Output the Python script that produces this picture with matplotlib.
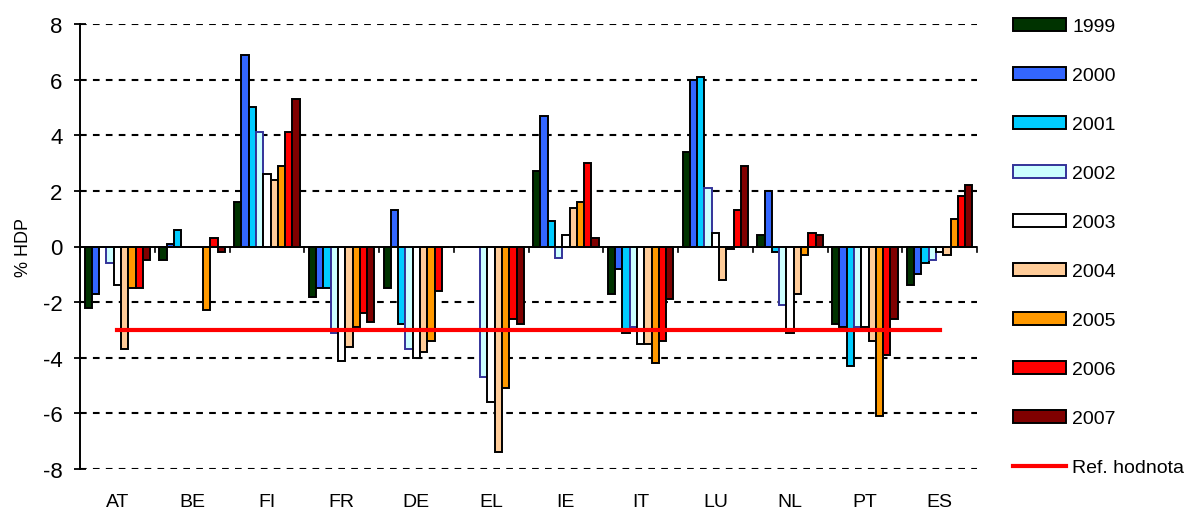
import numpy as np
import matplotlib
matplotlib.use('Agg')
import matplotlib.pyplot as plt

plt.rcParams['font.family'] = ['Liberation Sans', 'DejaVu Sans']

# Data (% HDP)
countries = ['AT', 'BE', 'FI', 'FR', 'DE', 'EL', 'IE', 'IT', 'LU', 'NL', 'PT', 'ES']
years = ['1999', '2000', '2001', '2002', '2003', '2004', '2005', '2006', '2007']

v1999 = [-2.2, -0.5, 1.6, -1.8, -1.5, 0.0, 2.7, -1.7, 3.4, 0.4, -2.8, -1.4]
v2000 = [-1.7, 0.1, 6.9, -1.5, 1.3, 0.0, 4.7, -0.8, 6.0, 2.0, -2.9, -1.0]
v2001 = [0.0, 0.6, 5.0, -1.5, -2.8, 0.0, 0.9, -3.1, 6.1, -0.2, -4.3, -0.6]
v2002 = [-0.6, 0.0, 4.1, -3.1, -3.7, -4.7, -0.4, -2.9, 2.1, -2.1, -2.9, -0.5]
v2003 = [-1.4, 0.0, 2.6, -4.1, -4.0, -5.6, 0.4, -3.5, 0.5, -3.1, -2.9, -0.2]
v2004 = [-3.7, 0.0, 2.4, -3.6, -3.8, -7.4, 1.4, -3.5, -1.2, -1.7, -3.4, -0.3]
v2005 = [-1.5, -2.3, 2.9, -2.9, -3.4, -5.1, 1.6, -4.2, -0.1, -0.3, -6.1, 1.0]
v2006 = [-1.5, 0.3, 4.1, -2.4, -1.6, -2.6, 3.0, -3.4, 1.3, 0.5, -3.9, 1.8]
v2007 = [-0.5, -0.2, 5.3, -2.7, 0.0, -2.8, 0.3, -1.9, 2.9, 0.4, -2.6, 2.2]
ref_value = -3.0

series = [v1999, v2000, v2001, v2002, v2003, v2004, v2005, v2006, v2007]
colors = ['#003300', '#3366FF', '#00CCFF', '#CCFFFF', '#FFFFFF',
          '#FFCC99', '#FF9900', '#FF0000', '#800000']
edges = ['black', 'black', 'black', '#333399', 'black',
         'black', 'black', 'black', 'black']

fig = plt.figure(figsize=(11.95, 5.1), dpi=100)
ax = fig.add_axes([80 / 1195, 1 - 470 / 510, 897 / 1195, 445 / 510])

x = np.arange(len(countries))
bw = 0.097
handles = []
for i, (vals, c, ec) in enumerate(zip(series, colors, edges)):
    off = (i - 4) * bw
    b = ax.bar(x + off, vals, width=bw, color=c, edgecolor=ec, linewidth=1.4,
               label=years[i], zorder=3)
    handles.append(b)

# reference line
ref_line, = ax.plot([x[0], x[-1]], [ref_value, ref_value], color='#FF0000',
                    linewidth=3, zorder=4, label='Ref. hodnota')
handles.append(ref_line)

# zero axis with group separator ticks
ax.axhline(0, color='black', linewidth=1.4, zorder=5)
for b in np.arange(len(countries) + 1) - 0.5:
    ax.plot([b, b], [0, -0.2], color='black', linewidth=1.2, zorder=5, clip_on=False)

ax.set_xlim(-0.5, len(countries) - 0.5)
ax.set_ylim(-8, 8)
ax.set_yticks(np.arange(-8, 9, 2))
ax.set_yticklabels([str(t) for t in range(-8, 9, 2)], fontsize=16)
ax.tick_params(axis='y', direction='inout', length=9, width=1.3, pad=8)
ax.set_xticks(x)
ax.set_xticklabels(countries, fontsize=14)
ax.tick_params(axis='x', length=0, pad=17)

for yv in range(-8, 9, 2):
    if yv != 0:
        ax.axhline(yv, color='black', linewidth=1.5, linestyle=(0, (3.2, 3.0)), zorder=1)

for s in ['top', 'right', 'bottom']:
    ax.spines[s].set_visible(False)
ax.spines['left'].set_linewidth(1.4)

ax.set_ylabel('% HDP', fontsize=13, labelpad=8)

fig.legend(handles=handles, labels=years + ['Ref. hodnota'], loc='upper left',
           bbox_to_anchor=(1013 / 1195, 1 - 19 / 510), frameon=False, fontsize=14,
           handlelength=2.75, handleheight=0.65, handletextpad=0.3,
           labelspacing=1.63, borderpad=0, borderaxespad=0)

plt.savefig('out.png', dpi=100)
